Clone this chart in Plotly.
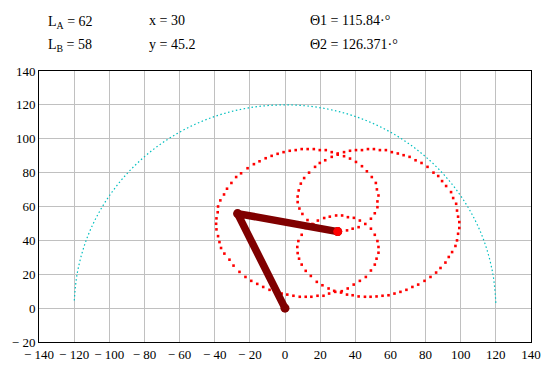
import plotly.graph_objects as go

# ---- data ----
arm_x = [0, -27.0, 30]
arm_y = [0, 55.8, 45.2]

reach_x = [120.0, 118.2, 112.8, 103.9, 91.9, 77.1, 60.0, 41.0, 20.8, 0.0,
           -20.8, -41.0, -60.0, -77.1, -91.9, -103.9, -112.8, -118.2, -120.0]
reach_y = [3.1, 20.8, 41.0, 60.0, 77.1, 91.9, 103.9, 112.8, 118.2, 120.0,
           118.2, 112.8, 103.9, 91.9, 77.1, 60.0, 41.0, 20.8, 3.1]

outer_x = [30, 26.6, 23.2, 19.8, 16.4, 12.9, 9.5, 6.1, 2.7, -0.8, -4.2, -7.6, -11, -14.5, -17.7, -21.3,
           -25, -27.8, -30.5, -33, -34.7, -36.8, -38.1, -38.3, -39, -39.2, -39, -38.1, -37.3, -36.4,
           -34.5, -31.6, -29.3, -25.9, -22.5, -19.2, -15.8, -12.4, -8.8, -5.3, -1.9, 1.3, 4.8, 8.4,
           11.8, 15, 18.5, 21.9, 25.1, 28.6, 31.9, 35.3, 38.5, 41.9, 45.5, 48.7, 52.1, 55.5, 58.9,
           62.3, 65.7, 69.1, 72.5, 75.8, 79.4, 82.8, 86, 88.5, 91.3, 93.2, 95.1, 97, 97.9, 98.5,
           99.2, 99.2, 98.5, 97.9, 97.4, 95.7, 94.5, 91.7, 89.4, 87.2, 84.5, 81.1, 77.7, 74.3, 70.9,
           67.5, 64.2, 60.8, 57.4, 54, 50.6, 47.2, 43.8, 40.4, 37, 33.6]
outer_y = [91.3, 92.1, 93.3, 93.3, 93.9, 93.9, 93.9, 93.3, 92.9, 92.1, 91.1, 89.9, 88.5, 86.7, 85, 82.6,
           79.6, 77.4, 73.9, 70.5, 67.1, 63.6, 60, 56.6, 53, 49.8, 46.5, 42.5, 39, 35.5,
           32.2, 28.6, 25.1, 21.4, 18.4, 16.1, 14.3, 12.5, 10.8, 9.6, 8.6, 8, 7.3, 6.7,
           6.7, 6.7, 7.3, 7.3, 8.6, 9.6, 9.2, 8, 7.6, 6.9, 6.7, 6.7, 6.9, 7.3, 7.6,
           8.6, 9.6, 10.8, 12.5, 13.9, 16.1, 18.4, 21, 23.7, 26.9, 30.2, 33.1, 36.7, 40, 43.9,
           47.3, 50.8, 54, 57.6, 61.6, 65, 68.5, 72.1, 75, 78, 80, 83.4, 85.7, 87.3, 89.3,
           90.3, 91.3, 92.1, 93.3, 93.3, 93.9, 93.9, 93.3, 93.3, 92.9, 92.1]

upper_x = [30, 26.6, 22.9, 19.8, 17.1, 13.7, 10.9, 9, 7.8, 7.2, 7.2, 8.2, 9.9, 12.8, 16.3, 20, 25, 30,
           35.3, 38.5, 41.9, 45.7, 48.9, 51.1, 52.6, 52.6, 53.2, 52.3, 51.7, 49.4, 46.6, 43.8,
           40.4, 37, 33.6]
upper_y = [90.6, 89.3, 87.3, 85.7, 83.4, 80, 76.8, 73.5, 69.5, 65.9, 62.6, 58.8, 55.6, 52, 49.3, 47.5,
           46.3, 45.8, 45.9, 46.9, 47.8, 49.7, 52.8, 56, 59.6, 63, 66.5, 70.1, 73.9, 77.4, 80.8,
           83.8, 86.3, 88.3, 89.7]

lower_x = [42.6, 39.2, 35.8, 32.5, 29.1, 25.5, 22.3, 18.7, 15.6, 11.8, 9.5, 7.6, 7, 7.2, 8, 9.5,
           11.8, 14.7, 18.1, 21.3, 24.8, 28, 32.3, 35.7, 39.1, 42.6, 46, 48.9, 51.1, 52.1, 53.2,
           53.2, 52.6, 51.1, 48.9]
lower_y = [51.7, 53.3, 53.7, 54.7, 54.7, 54, 53.2, 51.7, 49.7, 47.3, 43.3, 39.6, 36.1, 32.5, 29.2,
           25.7, 22, 19, 15.5, 13.5, 11.6, 10.2, 10, 11.6, 13.9, 16.1, 18.4, 22.2, 25.7, 29.2,
           32.7, 36.1, 39.6, 43.3, 46.9]

x_ticks = [-140, -120, -100, -80, -60, -40, -20, 0, 20, 40, 60, 80, 100, 120, 140]
y_ticks = [-20, 0, 20, 40, 60, 80, 100, 120, 140]


def lab(v):
    return ("\u2212 " + str(-v)) if v < 0 else str(v)


serif = "Liberation Serif, Times New Roman, Times, serif"

fig = go.Figure()

fig.add_trace(go.Scatter(x=reach_x, y=reach_y, mode="lines",
                         line=dict(color="#00BFBF", width=1.2, dash="1.5px,2.5px", shape="spline"),
                         hoverinfo="skip"))

for xs, ys in [(outer_x, outer_y), (upper_x, upper_y), (lower_x, lower_y)]:
    fig.add_trace(go.Scatter(x=xs, y=ys, mode="markers",
                             marker=dict(color="#FF0000", size=2.6, symbol="square", line=dict(width=0)),
                             hoverinfo="skip"))

fig.add_trace(go.Scatter(x=arm_x, y=arm_y, mode="lines+markers",
                         line=dict(color="#800000", width=7.5),
                         marker=dict(color="#800000", size=9, symbol="circle", line=dict(width=0)),
                         hoverinfo="skip"))
fig.add_trace(go.Scatter(x=[arm_x[-1]], y=[arm_y[-1]], mode="markers",
                         marker=dict(color="#FF0000", size=9, symbol="circle", line=dict(width=0)),
                         hoverinfo="skip"))

L, R, T, B = 39, 531, 71, 342
W, H = R - L, B - T


def px(xp):
    return (xp - L) / W


def py(yp):
    return (B - yp) / H


texts = [
    ("L<sub>A</sub> = 62", 46, 22),
    ("L<sub>B</sub> = 58", 46, 46),
    ("x = 30", 147, 20),
    ("y = 45.2", 147, 44),
    ("\u03981 = 115.84\u00b7\u00b0", 308, 20),
    ("\u03982 = 126.371\u00b7\u00b0", 308, 44),
]
annotations = []
for t, xx, yy in texts:
    annotations.append(dict(text=t, x=px(xx), y=py(yy), xref="paper", yref="paper",
                            xanchor="left", yanchor="middle", showarrow=False,
                            font=dict(family=serif, size=14, color="black")))

axis_common = dict(showgrid=True, gridcolor="#C0C0C0", gridwidth=1, zeroline=False,
                   showline=True, linecolor="black", linewidth=1, mirror=True, ticks="",
                   tickfont=dict(family=serif, size=13, color="black"), fixedrange=True,
                   automargin=False)

fig.update_layout(
    width=548, height=368,
    margin=dict(l=L, r=548 - R, t=T, b=368 - B, pad=0, autoexpand=False),
    paper_bgcolor="white", plot_bgcolor="white",
    showlegend=False,
    font=dict(family=serif),
    annotations=annotations,
    xaxis=dict(range=[-140, 140], tickvals=x_ticks, ticktext=[lab(v) for v in x_ticks], **axis_common),
    yaxis=dict(range=[-20, 140], tickvals=y_ticks, ticktext=[lab(v) for v in y_ticks], **axis_common),
)

fig.write_html("out.html", config={"displayModeBar": False},
               post_script="document.body.style.margin='0';document.body.style.overflow='hidden';")
